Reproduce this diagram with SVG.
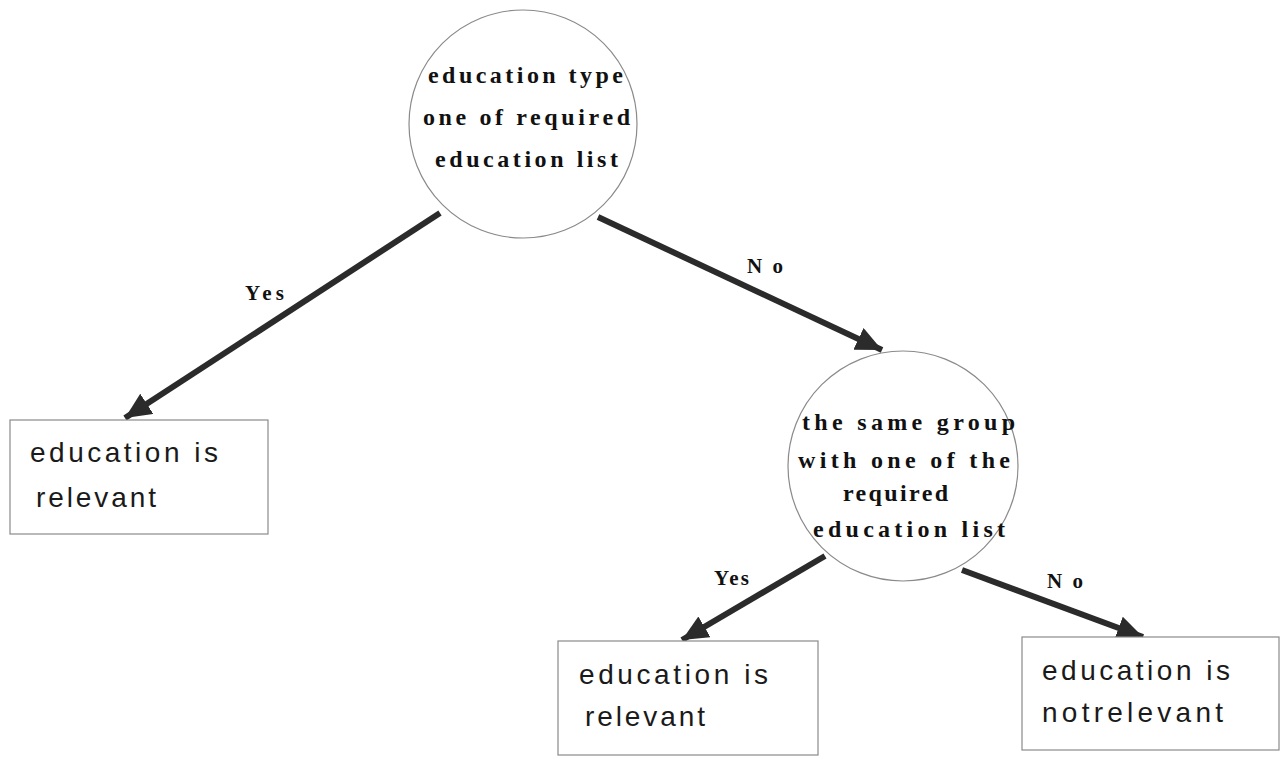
<svg xmlns="http://www.w3.org/2000/svg" width="1283" height="757" viewBox="0 0 1283 757">
<style>
.circ{fill:#fff;stroke:#8a8a8a;stroke-width:1.2}
.box{fill:#fff;stroke:#8a8a8a;stroke-width:1.2}
.ct{font-family:"Liberation Serif",serif;font-weight:bold;font-size:24px;fill:#111}
.bt{font-family:"Liberation Sans",sans-serif;font-size:28px;fill:#1a1a1a}
.lbl{font-family:"Liberation Serif",serif;font-weight:bold;font-size:21px;fill:#111}
.edge{stroke:#2b2b2b;stroke-width:6;fill:none}
</style>
<defs>
<marker id="ah" markerUnits="userSpaceOnUse" markerWidth="30" markerHeight="26" refX="26" refY="12" orient="auto">
<path d="M0,0 L26,12 L0,24 Z" fill="#2b2b2b"/>
</marker>
</defs>
<rect width="1283" height="757" fill="#fff"/>
<g id="connectors">
<line class="edge" x1="440" y1="213" x2="125" y2="418" marker-end="url(#ah)"/>
<line class="edge" x1="598" y1="217" x2="882" y2="350" marker-end="url(#ah)"/>
<line class="edge" x1="825" y1="556" x2="682" y2="640" marker-end="url(#ah)"/>
<line class="edge" x1="962" y1="570" x2="1143" y2="637" marker-end="url(#ah)"/>
<text class="lbl" x="245" y="300" textLength="39" lengthAdjust="spacing">Yes</text>
<text class="lbl" x="747" y="273" textLength="36" lengthAdjust="spacing">No</text>
<text class="lbl" x="714" y="585" textLength="35" lengthAdjust="spacing">Yes</text>
<text class="lbl" x="1047" y="588" textLength="36" lengthAdjust="spacing">No</text>
</g>
<g id="n1">
<circle class="circ" cx="523" cy="124" r="114"/>
<text class="ct" x="428" y="83" textLength="195" lengthAdjust="spacing">education type</text>
<text class="ct" x="423" y="125" textLength="207" lengthAdjust="spacing">one of required</text>
<text class="ct" x="435" y="167" textLength="183" lengthAdjust="spacing">education list</text>
</g>
<g id="n2">
<circle class="circ" cx="903" cy="466" r="115"/>
<text class="ct" x="802" y="430" textLength="213" lengthAdjust="spacing">the same group</text>
<text class="ct" x="798" y="468" textLength="212" lengthAdjust="spacing">with one of the</text>
<text class="ct" x="843" y="501" textLength="105" lengthAdjust="spacing">required</text>
<text class="ct" x="813" y="537" textLength="192" lengthAdjust="spacing">education list</text>
</g>
<g id="n3">
<rect class="box" x="10" y="420" width="258" height="114"/>
<text class="bt" x="30" y="462" textLength="188" lengthAdjust="spacing">education is</text>
<text class="bt" x="36" y="507" textLength="120" lengthAdjust="spacing">relevant</text>
</g>
<g id="n4">
<rect class="box" x="558" y="641" width="260" height="114"/>
<text class="bt" x="579" y="684" textLength="189" lengthAdjust="spacing">education is</text>
<text class="bt" x="585" y="726" textLength="120" lengthAdjust="spacing">relevant</text>
</g>
<g id="n5">
<rect class="box" x="1022" y="637" width="257" height="113"/>
<text class="bt" x="1042" y="680" textLength="188" lengthAdjust="spacing">education is</text>
<text class="bt" x="1042" y="722" textLength="181" lengthAdjust="spacing">notrelevant</text>
</g>
</svg>
